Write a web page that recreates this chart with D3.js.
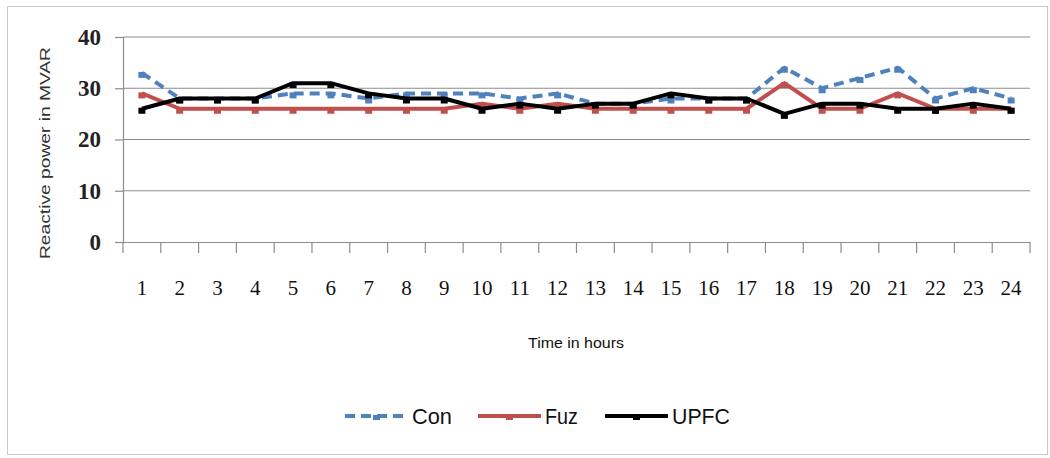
<!DOCTYPE html>
<html><head><meta charset="utf-8">
<script src="https://cdn.jsdelivr.net/npm/d3@7"></script>
<style>body{margin:0;background:#fff}svg{display:block}</style>
</head><body>
<svg id="c" width="1050" height="458"></svg>
<script>
const hours = d3.range(1,25).map(String);
const con  = [33,28,28,28,29,29,28,29,29,29,28,29,27,27,28,28,28,34,30,32,34,28,30,28];
const fuz  = [29,26,26,26,26,26,26,26,26,27,26,27,26,26,26,26,26,31,26,26,29,26,26,26];
const upfc = [26,28,28,28,31,31,29,28,28,26,27,26,27,27,29,28,28,25,27,27,26,26,27,26];
const yTicks = [0,10,20,30,40];
const seriesNames = ["Con","Fuz","UPFC"];
const seriesColors = ["#4F81BD","#C0504D","#000000"];

const svg = d3.select("#c");
svg.append("rect").attr("x",7.5).attr("y",6.5).attr("width",1040).attr("height",448)
  .attr("fill","none").attr("stroke","#c8c8c8");

const L=123,R=1030,T=37,B=242;
const x = d3.scaleBand().domain(hours).range([L,R]);
const y = d3.scaleLinear().domain([0,40]).range([B,T]);

// grid
svg.append("g").selectAll("line").data(yTicks.filter(d=>d>0)).join("line")
  .attr("x1",L).attr("x2",R).attr("y1",d=>y(d)).attr("y2",d=>y(d))
  .attr("stroke","#8c8c8c").attr("stroke-width",1.2);

// y axis
const ya = svg.append("g").attr("transform",`translate(${L},0)`)
  .call(d3.axisLeft(y).tickValues(yTicks).tickSize(8).tickPadding(14));
ya.select(".domain").attr("stroke","#8c8c8c").attr("stroke-width",1.2);
ya.selectAll(".tick line").attr("stroke","#8c8c8c").attr("stroke-width",1.2);
ya.selectAll("text").attr("font-family","Liberation Serif").attr("font-size",23)
  .attr("font-weight","bold").attr("fill","#222");

// x axis
const xa = svg.append("g").attr("transform",`translate(0,${B})`)
  .call(d3.axisBottom(x).tickSize(0).tickPadding(38));
xa.select(".domain").attr("stroke","#8c8c8c").attr("stroke-width",1.2);
xa.selectAll("text").attr("font-family","Liberation Serif").attr("font-size",21)
  .attr("fill","#111");
// boundary ticks
svg.append("g").selectAll("line").data(d3.range(0,25)).join("line")
  .attr("x1",i=>L+i*x.step()).attr("x2",i=>L+i*x.step())
  .attr("y1",B).attr("y2",B+11).attr("stroke","#8c8c8c").attr("stroke-width",1.2);

const cx = d=>x(d)+x.bandwidth()/2;
const line = d3.line().x((d,i)=>cx(hours[i])).y(d=>y(d));
const data = [con,fuz,upfc];
data.forEach((s,k)=>{
  svg.append("path").datum(s).attr("d",line).attr("fill","none")
    .attr("stroke",seriesColors[k]).attr("stroke-width",4)
    .attr("stroke-linejoin","round")
    .attr("stroke-dasharray",k===0?"10,6":null);
  svg.append("g").selectAll("rect").data(s).join("rect")
    .attr("x",(d,i)=>cx(hours[i])-3.5).attr("y",d=>y(d)-1)
    .attr("width",7).attr("height",6).attr("fill",seriesColors[k]);
});

// titles
svg.append("text").attr("transform","translate(50,153) rotate(-90)")
  .attr("text-anchor","middle").attr("font-family","Liberation Sans")
  .attr("font-size",15).attr("fill","#333")
  .attr("textLength",212).attr("lengthAdjust","spacingAndGlyphs").text("Reactive power in MVAR");
svg.append("text").attr("x",576).attr("y",348).attr("text-anchor","middle")
  .attr("font-family","Liberation Sans").attr("font-size",15)
  .attr("textLength",96).attr("lengthAdjust","spacingAndGlyphs")
  .attr("fill","#111").text("Time in hours");

// legend
const lx=[345,478,605];
const tl=[40,33,58];
seriesNames.forEach((n,k)=>{
  const g=svg.append("g");
  g.append("line").attr("x1",lx[k]).attr("x2",lx[k]+63).attr("y1",416).attr("y2",416)
    .attr("stroke",seriesColors[k]).attr("stroke-width",4)
    .attr("stroke-dasharray",k===0?"10,6":null);
  g.append("rect").attr("x",lx[k]+28).attr("y",415).attr("width",7).attr("height",5).attr("fill",seriesColors[k]);
  g.append("text").attr("x",lx[k]+67).attr("y",424).attr("font-family","Liberation Sans")
    .attr("font-size",22).attr("fill","#111")
    .attr("textLength",tl[k]).attr("lengthAdjust","spacingAndGlyphs").text(n);
});
</script>
</body></html>
